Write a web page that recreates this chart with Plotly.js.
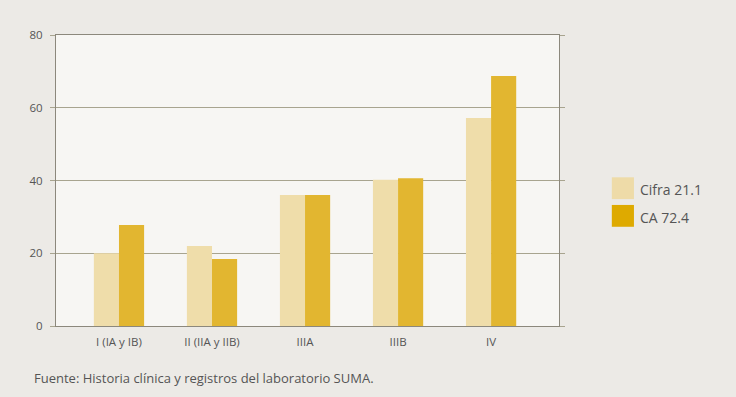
<!DOCTYPE html>
<html><head><meta charset="utf-8">
<script src="https://cdn.plot.ly/plotly-3.0.1.min.js"></script>
<style>html,body{margin:0;padding:0;background:#ECEAE6;}#chart{width:736px;height:397px;}</style>
</head><body><div id="chart"></div>
<script>
const categories = ["I (IA y IB)", "II (IIA y IIB)", "IIIA", "IIIB", "IV"];
const seriesNames = ["Cifra 21.1", "CA 72.4"];
const cifraValues = [20.0, 22.0, 36.0, 40.2, 57.2];
const caValues = [27.8, 18.4, 36.0, 40.6, 68.7];
const barColors = ["#EFDDAA", "#E2B630"];
const legendColors = ["#EEDBA8", "#DEAA00"];
const yTicks = [0, 20, 40, 60, 80];

const xIdx = categories.map((c, i) => i);
const traces = [
  {type: "bar", x: xIdx, y: cifraValues, name: seriesNames[0], marker: {color: barColors[0]}, hoverinfo: "none"},
  {type: "bar", x: xIdx, y: caValues, name: seriesNames[1], marker: {color: barColors[1]}, hoverinfo: "none"}
];

const font = {family: "Open Sans, DejaVu Sans, sans-serif", color: "#555", size: 11};
const shapes = [];
const annotations = [];
seriesNames.forEach((n, i) => {
  shapes.push({type: "rect", xref: "paper", yref: "paper", x0: 1.105, x1: 1.149, y0: 0.436 - i * 0.095, y1: 0.511 - i * 0.095,
    fillcolor: legendColors[i], line: {width: 0}});
  annotations.push({xref: "paper", yref: "paper", x: 1.158, y: 0.468 - i * 0.095, xanchor: "left", yanchor: "middle",
    text: n, showarrow: false, font: {family: font.family, size: 14, color: "#555"}});
});
annotations.push({xref: "paper", yref: "paper", x: -0.047, y: -0.14, xanchor: "left", yanchor: "top",
  text: "Fuente: Historia clínica y registros del laboratorio SUMA.", showarrow: false,
  font: {family: font.family, size: 13, color: "#555"}});

const layout = {
  width: 736, height: 397,
  margin: {l: 56, r: 177, t: 35, b: 71, pad: 0},
  paper_bgcolor: "#ECEAE6", plot_bgcolor: "#F7F6F3",
  font: font,
  showlegend: false,
  barmode: "group", bargap: 0.46, bargroupgap: 0,
  xaxis: {range: [-0.677, 4.73], tickvals: xIdx, ticktext: categories, showgrid: false, zeroline: false,
    showline: true, linecolor: "#8C887C", linewidth: 1, mirror: true, ticks: "", ticklabelstandoff: 5,
    tickfont: {size: 11.5, color: "#555"}, fixedrange: true},
  yaxis: {range: [0, 80], tickvals: yTicks, showgrid: true, gridcolor: "#A8A48F", gridwidth: 1, zeroline: false,
    showline: true, linecolor: "#8C887C", linewidth: 1, mirror: "ticks", ticks: "outside", ticklen: 5, tickcolor: "#A8A48F",
    tickfont: {size: 11.5, color: "#555"}, ticklabelstandoff: 5, fixedrange: true},
  shapes: shapes, annotations: annotations
};
Plotly.newPlot("chart", traces, layout, {displayModeBar: false, staticPlot: true});
</script></body></html>
